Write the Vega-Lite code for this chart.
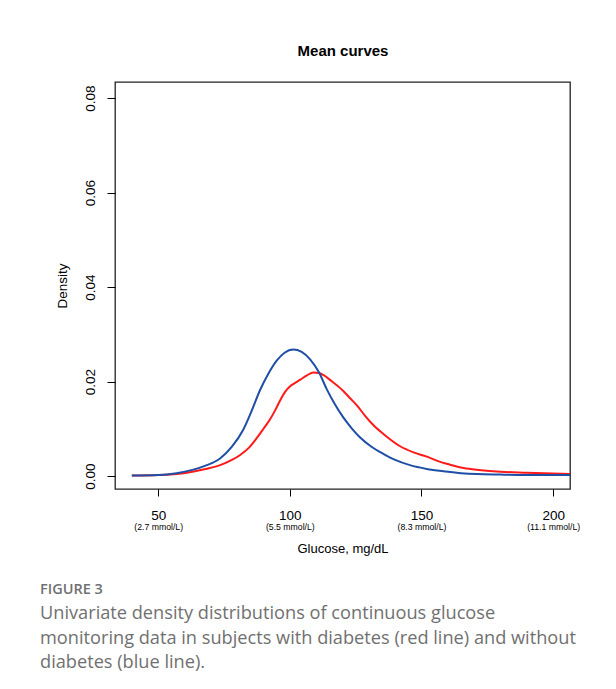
{
  "$schema": "https://vega.github.io/schema/vega-lite/v6.json",
  "width": 455,
  "height": 407,
  "autosize": {"type": "none"},
  "padding": {"left": 115, "top": 82, "right": 46, "bottom": 200},
  "background": "white",
  "config": {
    "view": {"stroke": "#222222", "strokeWidth": 1.3},
    "axis": {"labelFont": "Liberation Sans", "titleFont": "Liberation Sans", "labelColor": "black", "titleColor": "black", "tickColor": "black", "grid": false, "domain": false, "titleFontWeight": "normal"}
  },
  "title": {
    "text": "FIGURE 3",
    "subtitle": ["Univariate density distributions of continuous glucose", "monitoring data in subjects with diabetes (red line) and without", "diabetes (blue line)."],
    "orient": "bottom",
    "anchor": "start",
    "frame": "group",
    "dx": -75,
    "offset": 27,
    "font": "Open Sans",
    "fontSize": 14.5,
    "fontWeight": 600,
    "color": "#707070",
    "subtitleFont": "Open Sans",
    "subtitleFontSize": 18.2,
    "subtitleColor": "#707070",
    "subtitleLineHeight": 24.5,
    "subtitlePadding": 8
  },
  "data": {"values": [
    {"group": "without", "glucose": 40, "density": 0.0001},
    {"group": "without", "glucose": 50, "density": 0.0002},
    {"group": "without", "glucose": 57, "density": 0.0006},
    {"group": "without", "glucose": 63, "density": 0.0013},
    {"group": "without", "glucose": 68, "density": 0.0022},
    {"group": "without", "glucose": 73.5, "density": 0.0037},
    {"group": "without", "glucose": 78, "density": 0.0062},
    {"group": "without", "glucose": 82.3, "density": 0.0098},
    {"group": "without", "glucose": 85.5, "density": 0.0138},
    {"group": "without", "glucose": 88.7, "density": 0.0182},
    {"group": "without", "glucose": 92, "density": 0.0218},
    {"group": "without", "glucose": 95, "density": 0.0244},
    {"group": "without", "glucose": 98, "density": 0.0261},
    {"group": "without", "glucose": 101.3, "density": 0.0268},
    {"group": "without", "glucose": 104.5, "density": 0.0263},
    {"group": "without", "glucose": 107.7, "density": 0.0247},
    {"group": "without", "glucose": 111, "density": 0.022},
    {"group": "without", "glucose": 114, "density": 0.0184},
    {"group": "without", "glucose": 117, "density": 0.0153},
    {"group": "without", "glucose": 120.3, "density": 0.0124},
    {"group": "without", "glucose": 123.5, "density": 0.0101},
    {"group": "without", "glucose": 126.6, "density": 0.0082},
    {"group": "without", "glucose": 131, "density": 0.0062},
    {"group": "without", "glucose": 135.5, "density": 0.0047},
    {"group": "without", "glucose": 140, "density": 0.0034},
    {"group": "without", "glucose": 145.6, "density": 0.0023},
    {"group": "without", "glucose": 152, "density": 0.0015},
    {"group": "without", "glucose": 158.3, "density": 0.001},
    {"group": "without", "glucose": 165, "density": 0.0006},
    {"group": "without", "glucose": 171, "density": 0.0004},
    {"group": "without", "glucose": 180, "density": 0.0003},
    {"group": "without", "glucose": 195, "density": 0.0002},
    {"group": "without", "glucose": 206.4, "density": 0.0002},
    {"group": "with", "glucose": 40, "density": 0.0001},
    {"group": "with", "glucose": 50, "density": 0.0002},
    {"group": "with", "glucose": 57, "density": 0.0004},
    {"group": "with", "glucose": 63, "density": 0.0009},
    {"group": "with", "glucose": 68, "density": 0.0015},
    {"group": "with", "glucose": 73.5, "density": 0.0023},
    {"group": "with", "glucose": 78, "density": 0.0034},
    {"group": "with", "glucose": 81, "density": 0.0044},
    {"group": "with", "glucose": 84.5, "density": 0.006},
    {"group": "with", "glucose": 87.4, "density": 0.008},
    {"group": "with", "glucose": 90, "density": 0.01},
    {"group": "with", "glucose": 92.5, "density": 0.012},
    {"group": "with", "glucose": 94.5, "density": 0.014},
    {"group": "with", "glucose": 96.3, "density": 0.016},
    {"group": "with", "glucose": 98.2, "density": 0.0178},
    {"group": "with", "glucose": 100.1, "density": 0.019},
    {"group": "with", "glucose": 102, "density": 0.0197},
    {"group": "with", "glucose": 104, "density": 0.0204},
    {"group": "with", "glucose": 106.5, "density": 0.0213},
    {"group": "with", "glucose": 108.9, "density": 0.0219},
    {"group": "with", "glucose": 111, "density": 0.0218},
    {"group": "with", "glucose": 113, "density": 0.0213},
    {"group": "with", "glucose": 116, "density": 0.02},
    {"group": "with", "glucose": 120.3, "density": 0.018},
    {"group": "with", "glucose": 123, "density": 0.0164},
    {"group": "with", "glucose": 125.4, "density": 0.015},
    {"group": "with", "glucose": 128.5, "density": 0.0128},
    {"group": "with", "glucose": 131.7, "density": 0.0108},
    {"group": "with", "glucose": 136, "density": 0.0087},
    {"group": "with", "glucose": 141.9, "density": 0.0063},
    {"group": "with", "glucose": 147, "density": 0.005},
    {"group": "with", "glucose": 152, "density": 0.0041},
    {"group": "with", "glucose": 156, "density": 0.0032},
    {"group": "with", "glucose": 160.8, "density": 0.0024},
    {"group": "with", "glucose": 166, "density": 0.0017},
    {"group": "with", "glucose": 171, "density": 0.0013},
    {"group": "with", "glucose": 180, "density": 0.0009},
    {"group": "with", "glucose": 190, "density": 0.0007},
    {"group": "with", "glucose": 206.4, "density": 0.0004}
  ]},
  "encoding": {
    "y": {
      "field": "density", "type": "quantitative",
      "scale": {"domain": [-0.00275, 0.0834], "nice": false, "zero": false},
      "axis": {"values": [0, 0.02, 0.04, 0.06, 0.08], "format": ".2f", "title": "Density", "labelAngle": -90, "labelAlign": "center", "labelBaseline": "bottom", "labelFontSize": 13.5, "labelPadding": 10, "tickSize": 8, "titleFontSize": 13.5, "titlePadding": 14}
    }
  },
  "layer": [
    {
      "transform": [{"filter": "datum.group == 'with'"}],
      "mark": {"type": "line", "color": "#ff1a1a", "strokeWidth": 2, "interpolate": "monotone", "clip": true},
      "encoding": {
        "x": {
          "field": "glucose", "type": "quantitative",
          "scale": {"domain": [33.6, 206.4], "nice": false, "zero": false},
          "axis": {"orient": "bottom", "values": [50, 100, 150, 200], "title": null, "labelFontSize": 13.5, "tickSize": 7, "labelPadding": 12}
        }
      }
    },
    {
      "transform": [{"filter": "datum.group == 'without'"}],
      "mark": {"type": "line", "color": "#1f4ea6", "strokeWidth": 2, "interpolate": "monotone", "clip": true},
      "encoding": {
        "x": {
          "field": "glucose", "type": "quantitative",
          "scale": {"domain": [33.6, 206.4], "nice": false, "zero": false},
          "axis": {"orient": "bottom", "values": [50, 100, 150, 200], "title": "Glucose, mg/dL", "titleFontSize": 13, "titlePadding": 12, "labelExpr": "datum.value == 50 ? '(2.7 mmol/L)' : datum.value == 100 ? '(5.5 mmol/L)' : datum.value == 150 ? '(8.3 mmol/L)' : '(11.1 mmol/L)'", "labelFontSize": 8.7, "tickSize": 7, "tickOpacity": 0, "labelPadding": 26}
        }
      }
    },
    {
      "mark": {"type": "line", "opacity": 0, "clip": true},
      "encoding": {
        "x": {
          "field": "glucose", "type": "quantitative",
          "scale": {"domain": [33.6, 206.4], "nice": false, "zero": false},
          "axis": {"orient": "top", "title": "Mean curves", "labels": false, "ticks": false, "titleFontSize": 15, "titleFontWeight": "bold", "titlePadding": 24}
        },
        "detail": {"field": "group"}
      }
    }
  ],
  "resolve": {"axis": {"x": "independent"}}
}
